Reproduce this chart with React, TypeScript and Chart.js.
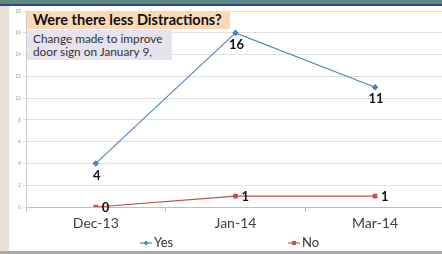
import React, { useEffect, useRef } from "react";
import { Chart, registerables } from "chart.js";

Chart.register(...registerables);

const categories = ["Dec-13", "Jan-14", "Mar-14"];
const yesValues = [4, 16, 11];
const noValues = [0, 1, 1];
const seriesNames = ["Yes", "No"];
const yTicks = { min: 0, max: 18, step: 2 };
const titleText = "Were there less Distractions?";
const noteLines = ["Change made to improve", "door sign on January 9,"];

const BLUE = "#4f81bd";
const RED = "#c0504d";
const FONT = "Lato, 'Open Sans', sans-serif";

const labelPlugin = {
  id: "labelsAndLegend",
  afterDatasetsDraw(chart: any) {
    const ctx = chart.ctx;
    ctx.save();
    ctx.font = `bold 13px ${FONT}`;
    ctx.fillStyle = "#111";
    chart.data.datasets.forEach((ds: any, di: number) => {
      const meta = chart.getDatasetMeta(di);
      meta.data.forEach((pt: any, i: number) => {
        const v = String(ds.data[i]);
        if (di === 0) {
          ctx.textAlign = "center";
          ctx.textBaseline = "middle";
          ctx.fillText(v, pt.x + 1, pt.y + 12);
        } else {
          ctx.textAlign = "left";
          ctx.textBaseline = "middle";
          ctx.fillText(v, pt.x + 6, pt.y + 1);
        }
      });
    });
    // legend
    const ly = chart.height - 9;
    const items = [
      { x: 131, color: BLUE, style: "rectRot", name: seriesNames[0] },
      { x: 279, color: RED, style: "rect", name: seriesNames[1] },
    ];
    ctx.font = `13px ${FONT}`;
    items.forEach((it) => {
      ctx.strokeStyle = it.color;
      ctx.lineWidth = 1.1;
      ctx.beginPath();
      ctx.moveTo(it.x, ly);
      ctx.lineTo(it.x + 12, ly);
      ctx.stroke();
      ctx.fillStyle = it.color;
      if (it.style === "rect") {
        ctx.fillRect(it.x + 4, ly - 2, 4, 4);
      } else {
        ctx.beginPath();
        ctx.moveTo(it.x + 6, ly - 2.5);
        ctx.lineTo(it.x + 8.5, ly);
        ctx.lineTo(it.x + 6, ly + 2.5);
        ctx.lineTo(it.x + 3.5, ly);
        ctx.closePath();
        ctx.fill();
      }
      ctx.fillStyle = "#333";
      ctx.textAlign = "left";
      ctx.textBaseline = "middle";
      ctx.fillText(it.name, it.x + 14, ly);
    });
    ctx.restore();
  },
};

export default function App() {
  const ref = useRef<HTMLCanvasElement>(null);
  useEffect(() => {
    if (!ref.current) return;
    const chart = new Chart(ref.current, {
      type: "line",
      data: {
        labels: categories,
        datasets: [
          {
            label: seriesNames[0],
            data: yesValues,
            borderColor: BLUE,
            backgroundColor: BLUE,
            borderWidth: 1.1,
            pointStyle: "rectRot",
            pointRadius: 2.5,
            tension: 0,
          },
          {
            label: seriesNames[1],
            data: noValues,
            borderColor: RED,
            backgroundColor: RED,
            borderWidth: 1.1,
            pointStyle: "rect",
            pointRadius: 2.5,
            tension: 0,
          },
        ],
      },
      options: {
        animation: false,
        responsive: false,
        maintainAspectRatio: false,
        layout: { padding: { top: 3, left: 0, right: 0, bottom: 0 } },
        plugins: { legend: { display: false }, tooltip: { enabled: false } },
        scales: {
          x: {
            offset: true,
            grid: {
              offset: true,
              drawOnChartArea: false,
              drawTicks: true,
              tickLength: 5,
              color: "#bfbfbf",
            },
            border: { color: "#bfbfbf" },
            ticks: {
              padding: 3,
              color: "#404040",
              font: { family: FONT, size: 14 },
            },
            afterFit(scale: any) {
              scale.height = 45;
            },
          },
          y: {
            min: yTicks.min,
            max: yTicks.max,
            ticks: {
              stepSize: yTicks.step,
              color: "#999",
              font: { family: FONT, size: 5 },
              padding: 2,
            },
            grid: {
              color: (c: any) => (c.tick && c.tick.value === yTicks.max ? "#e2d6f2" : "#e0e0e0"),
              tickLength: 3,
            },
            border: { color: "#cfcfcf" },
            afterFit(scale: any) {
              scale.width = 17;
            },
          },
        },
      },
      plugins: [labelPlugin],
    });
    return () => chart.destroy();
  }, []);

  return (
    <div
      style={{
        position: "fixed",
        left: 0,
        top: 0,
        width: 442,
        height: 254,
        overflow: "hidden",
        background: "#fff",
        fontFamily: FONT,
      }}
    >
      <div style={{ position: "absolute", left: 0, top: 0, width: 442, height: 4, background: "#5d8a7c" }} />
      <div style={{ position: "absolute", left: 0, top: 4, width: 442, height: 2, background: "#3b3f9e" }} />
      <div style={{ position: "absolute", left: 0, top: 6, width: 9, height: 248, background: "#e9dfd6" }} />
      <div style={{ position: "absolute", left: 0, top: 251, width: 442, height: 3, background: "#a8a8a8" }} />
      <canvas
        ref={ref}
        width={441}
        height={246}
        style={{ position: "absolute", left: 9, top: 6, width: 441, height: 246 }}
      />
      <div
        style={{
          position: "absolute",
          left: 27,
          top: 11,
          width: 203,
          height: 18,
          background: "#fcd9b4",
          color: "#111",
          fontWeight: 700,
          fontSize: 14.5,
          lineHeight: "18px",
          paddingLeft: 6,
          boxSizing: "border-box",
          whiteSpace: "nowrap",
        }}
      >
        {titleText}
      </div>
      <div
        style={{
          position: "absolute",
          left: 27,
          top: 30,
          width: 145,
          height: 30,
          background: "#e6e2ee",
          color: "#333",
          fontSize: 11.8,
          lineHeight: "13px",
          paddingLeft: 6,
          paddingTop: 2,
          boxSizing: "border-box",
          whiteSpace: "nowrap",
        }}
      >
        {noteLines.map((l, i) => (
          <div key={i}>{l}</div>
        ))}
      </div>
    </div>
  );
}
